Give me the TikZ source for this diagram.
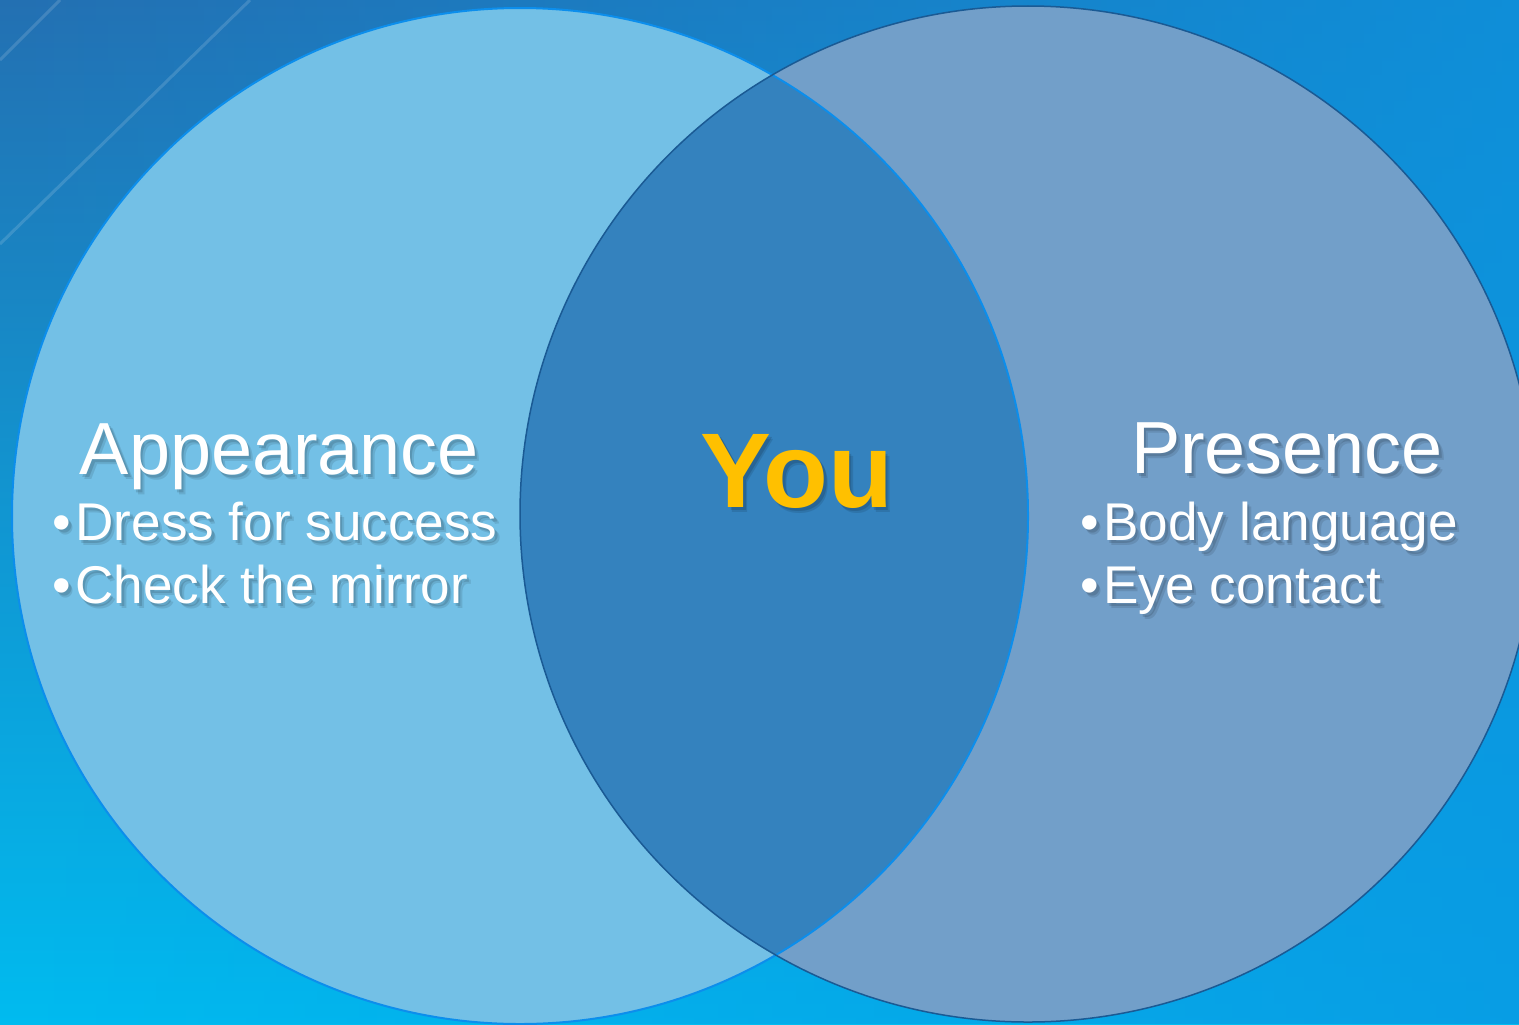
\documentclass[tikz,border=0pt]{standalone}
\usepackage{fontspec}
\setmainfont{Liberation Sans}
\usetikzlibrary{fadings}
\definecolor{bgtop}{HTML}{2470B2}
\definecolor{bgbottom}{HTML}{00BCF0}
\definecolor{bgright}{HTML}{0A96E2}
\definecolor{leftfill}{HTML}{73C0E6}
\definecolor{rightfill}{HTML}{729FC9}
\definecolor{lensfill}{HTML}{3482BE}
\definecolor{leftrim}{HTML}{0C8EEC}
\definecolor{rightrim}{HTML}{1A5A94}
\definecolor{yougold}{HTML}{FFC000}
\tikzset{x=0.01cm, y=-0.01cm}
\tikzset{head/.style={text=white, inner sep=0pt, anchor=base, font=\fontsize{21}{25}\selectfont}}
\tikzset{item/.style={text=white, inner sep=0pt, anchor=base west, font=\fontsize{15.1}{18}\selectfont}}
\tikzset{you/.style={text=yougold, inner sep=0pt, anchor=base, font=\fontsize{30.2}{34}\selectfont\bfseries}}
\tikzset{shd/.style={text=black, opacity=0.13, xshift=0.7pt, yshift=-0.9pt}}
\tikzset{shdb/.style={text=black, opacity=0.10, xshift=1.2pt, yshift=-1.5pt}}
\tikzset{streak/.style={white, opacity=0.14, line width=0.03cm}}
\newcommand\shtext[4]{%
  \node[#3, shdb] (#1t) at (#2) {#4};
  \node[#3, shd] (#1s) at (#2) {#4};
  \node[#3] (#1) at (#2) {#4};}
\newcommand\bul{•\kern1.2pt}

\begin{document}
\begin{tikzpicture}
        \useasboundingbox (0,0) rectangle (1519,1024);
        \shade[top color=bgtop, bottom color=bgbottom] (0,0) rectangle (1519,1024);
        \fill[bgright, path fading=west, opacity=0.8] (0,0) rectangle (1519,1024);
        \draw[streak] (0,60) -- (60,0);
        \draw[streak] (0,244) -- (250,0);
        % the two sets
        \coordinate (cl) at (520,516);
        \coordinate (cr) at (1028,514);
        \fill[leftfill] (cl) circle [radius=508];
        \fill[rightfill] (cr) circle [radius=508];
        \begin{scope}
                \clip (cl) circle [radius=508];
                \fill[lensfill] (cr) circle [radius=508];
        \end{scope}
        \draw[leftrim, line width=0.02cm] (cl) circle [radius=508];
        \draw[rightrim, line width=0.015cm] (cr) circle [radius=508];
        % labels
        \shtext{app}{279,474}{head}{Appearance}
        \shtext{dress}{52,540}{item}{\bul Dress for success}
        \shtext{mirror}{52,603}{item}{\bul Check the mirror}
        \shtext{you}{797,507}{you}{You}
        \shtext{pres}{1287,473}{head}{Presence}
        \shtext{body}{1080,540}{item}{\bul Body language}
        \shtext{eye}{1080,603}{item}{\bul Eye contact}
\end{tikzpicture}
\end{document}
